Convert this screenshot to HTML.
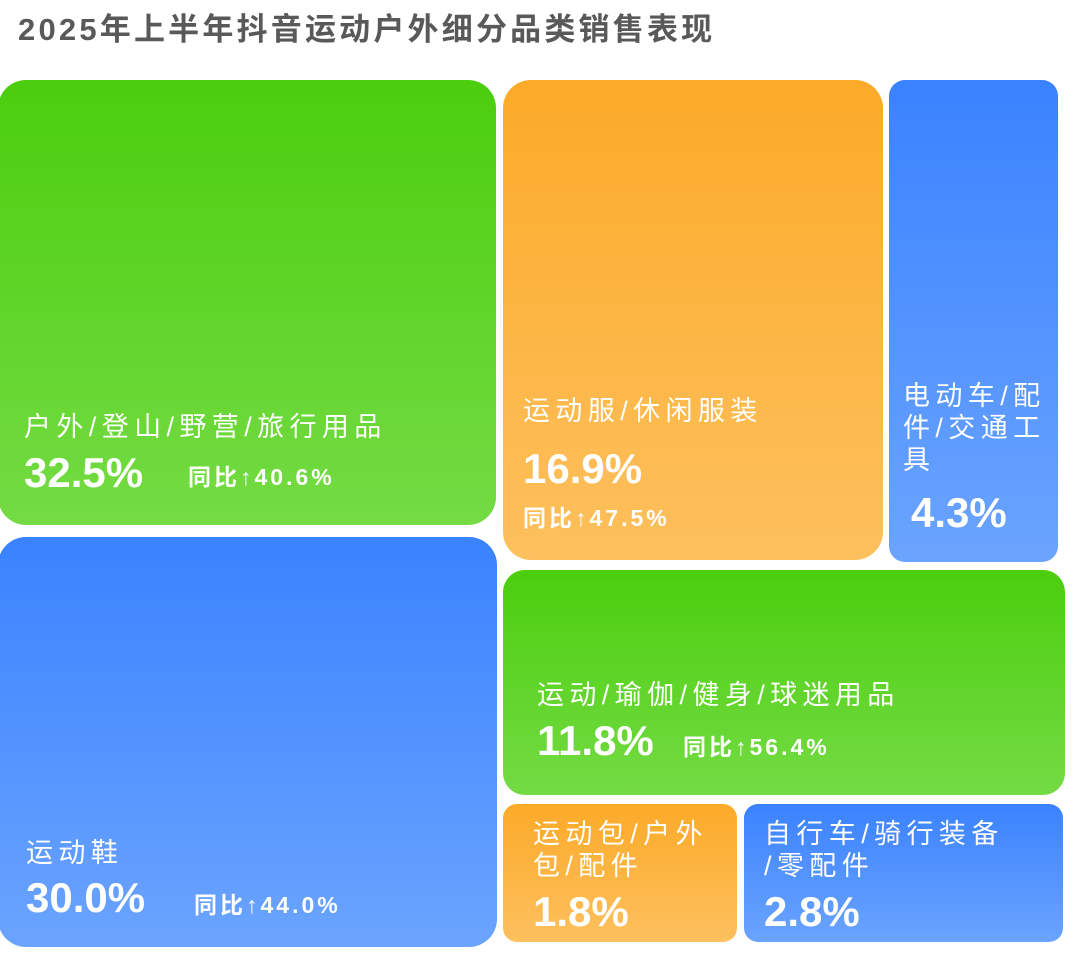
<!DOCTYPE html>
<html><head><meta charset="utf-8"><style>
body{margin:0;width:1080px;height:957px;background:#fff;position:relative;overflow:hidden;font-family:"Liberation Sans","Noto Sans CJK SC",sans-serif;}
.t{position:absolute;left:18px;top:12px;font-size:31px;line-height:36px;font-weight:bold;color:#595959;letter-spacing:3.2px;}
.b{position:absolute;border-radius:28px;color:#fff;}
.g{background:linear-gradient(#4bce0e,#74db44);}
.u{background:linear-gradient(#3a82ff,#6ba4ff);}
.o{background:linear-gradient(#fcaa28,#fdc05e);}
.l{position:absolute;font-size:27px;letter-spacing:5.4px;line-height:32px;white-space:nowrap;}
.p{position:absolute;font-size:42px;line-height:42px;font-weight:bold;}
.y{position:absolute;font-size:23px;line-height:22px;font-weight:bold;letter-spacing:3px;}
</style></head><body>
<div class="t">2025年上半年抖音运动户外细分品类销售表现</div>

<div class="b g" style="left:-2px;top:80px;width:498px;height:445px">
<div class="l" style="left:26px;top:331px">户外/登山/野营/旅行用品</div>
<div class="p" style="left:26px;top:372px">32.5%</div>
<div class="y" style="left:190px;top:386px">同比↑40.6%</div></div>

<div class="b u" style="left:-2px;top:537px;width:499px;height:410px">
<div class="l" style="left:28px;top:300px">运动鞋</div>
<div class="p" style="left:28px;top:340px">30.0%</div>
<div class="y" style="left:196px;top:357px">同比↑44.0%</div></div>

<div class="b o" style="left:503px;top:80px;width:380px;height:480px">
<div class="l" style="left:20px;top:315px">运动服/休闲服装</div>
<div class="p" style="left:20px;top:368px">16.9%</div>
<div class="y" style="left:20px;top:427px">同比↑47.5%</div></div>

<div class="b u" style="left:889px;top:80px;width:169px;height:482px;border-radius:16px">
<div class="l" style="left:14px;top:300px">电动车/配<br>件/交通工<br>具</div>
<div class="p" style="left:22px;top:412px">4.3%</div></div>

<div class="b g" style="left:503px;top:570px;width:562px;height:225px;border-radius:22px">
<div class="l" style="left:34px;top:109px">运动/瑜伽/健身/球迷用品</div>
<div class="p" style="left:34px;top:150px">11.8%</div>
<div class="y" style="left:180px;top:166px">同比↑56.4%</div></div>

<div class="b o" style="left:503px;top:804px;width:234px;height:138px;border-radius:14px">
<div class="l" style="left:30px;top:14px">运动包/户外<br>包/配件</div>
<div class="p" style="left:30px;top:87px">1.8%</div></div>

<div class="b u" style="left:744px;top:804px;width:319px;height:138px;border-radius:14px">
<div class="l" style="left:20px;top:14px">自行车/骑行装备<br>/零配件</div>
<div class="p" style="left:20px;top:87px">2.8%</div></div>
</body></html>
